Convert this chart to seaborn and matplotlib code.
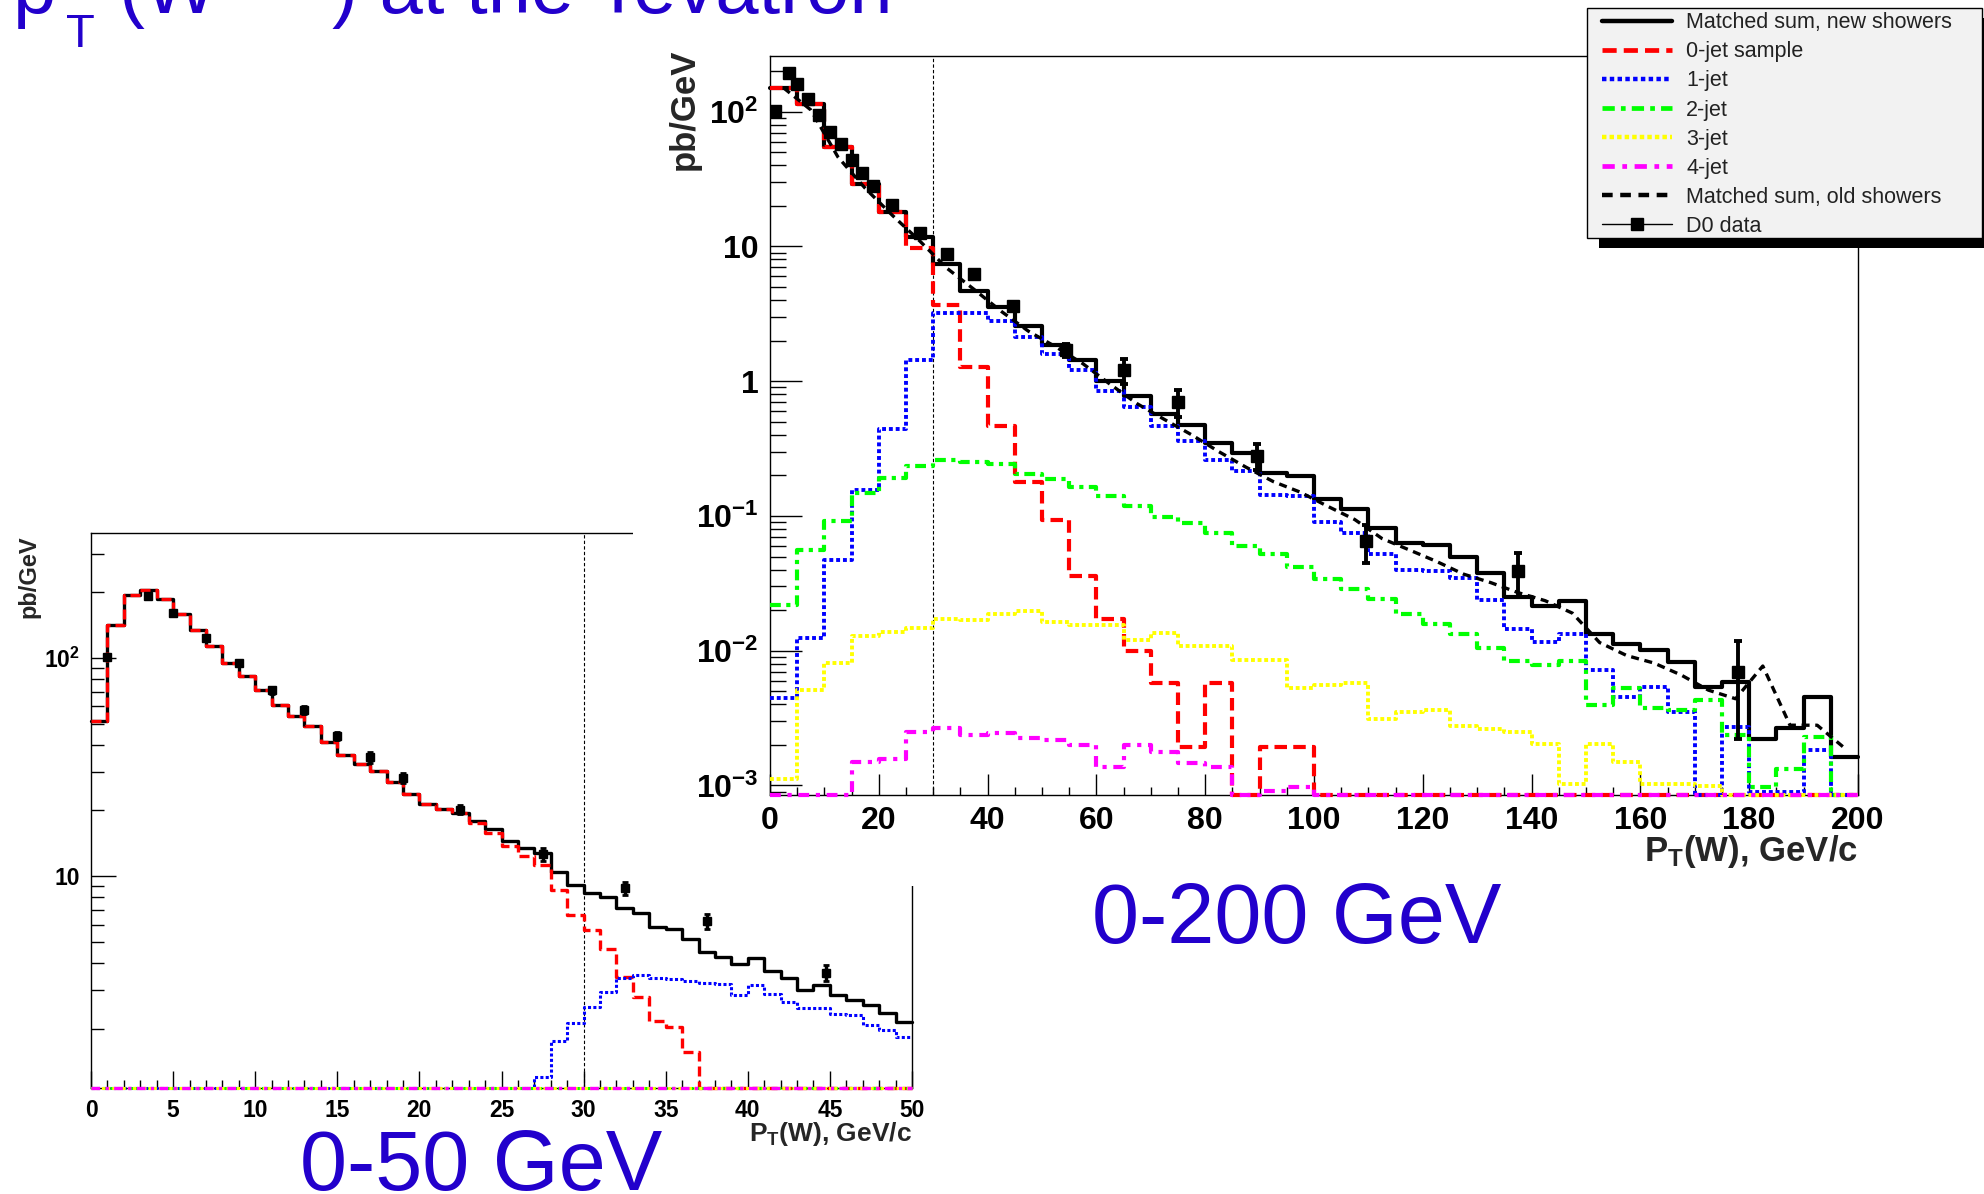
import numpy as np
import pandas as pd
import matplotlib
matplotlib.use("Agg")
import matplotlib.pyplot as plt
import seaborn as sns
from matplotlib.lines import Line2D
from matplotlib.patches import Rectangle
from matplotlib.ticker import MultipleLocator, LogLocator, FuncFormatter, NullFormatter

# ------------------------------------------------------------------
# DATA
# ------------------------------------------------------------------
# 0-200 GeV panel, 5 GeV bins
edges_200 = list(range(0, 205, 5))
sum_new_200 = [150, 114, 55, 29, 18.1, 11.8, 7.35, 4.63, 3.53, 2.58,
               1.87, 1.43, 1.0, 0.77, 0.57, 0.47, 0.349, 0.294, 0.208, 0.197,
               0.133, 0.112, 0.0807, 0.063, 0.0605, 0.05, 0.0376, 0.0251, 0.0215, 0.0235,
               0.0132, 0.0112, 0.0102, 0.0083, 0.0054, 0.0059, 0.0022, 0.00267, 0.00456, 0.00162]
zero_jet_200 = [150, 114, 55, 29, 18.1, 9.8, 3.68, 1.27, 0.465, 0.18,
                0.093, 0.0357, 0.0172, 0.0099, 0.00574, 0.00193, 0.00574, 0, 0.00193, 0.00193,
                0, 0, 0, 0, 0, 0, 0, 0, 0, 0,
                0, 0, 0, 0, 0, 0, 0, 0, 0, 0]
one_jet_200 = [0.00449, 0.0125, 0.0473, 0.156, 0.44, 1.43, 3.19, 3.19, 2.79, 2.13,
               1.6, 1.2, 0.85, 0.64, 0.466, 0.36, 0.262, 0.214, 0.143, 0.141,
               0.0906, 0.075, 0.0525, 0.0398, 0.0389, 0.0347, 0.0237, 0.0144, 0.0116, 0.0132,
               0.00723, 0.00456, 0.00542, 0.00348, 0, 0.00272, 0.0009, 0.0009, 0.00182, 0]
two_jet_200 = [0.0218, 0.0556, 0.092, 0.149, 0.191, 0.236, 0.259, 0.25, 0.243, 0.206,
               0.189, 0.165, 0.141, 0.119, 0.0986, 0.088, 0.075, 0.0596, 0.0519, 0.0417,
               0.0341, 0.0287, 0.0241, 0.0188, 0.0158, 0.0132, 0.0105, 0.00834, 0.0078, 0.00834,
               0.00395, 0.00527, 0.00373, 0.00362, 0.0043, 0.00236, 0.00097, 0.00133, 0.00229, 0]
three_jet_200 = [0.00112, 0.00512, 0.0081, 0.0128, 0.0138, 0.0147, 0.0171, 0.0168, 0.0188, 0.0197,
                 0.0162, 0.0155, 0.0155, 0.0121, 0.0136, 0.0108, 0.0108, 0.0086, 0.0086, 0.00527,
                 0.00557, 0.00574, 0.00314, 0.00348, 0.00363, 0.00277, 0.00264, 0.0025, 0.00204, 0.00102,
                 0.00204, 0.00149, 0.00102, 0.00102, 0.00099, 0, 0, 0, 0, 0]
four_jet_200 = [0, 0, 0, 0.0015, 0.00158, 0.0025, 0.00268, 0.00236, 0.00247, 0.00225,
                0.00219, 0.00201, 0.00136, 0.002, 0.00177, 0.00147, 0.00136, 0, 0.00091, 0.00097,
                0, 0, 0, 0, 0, 0, 0, 0, 0, 0,
                0, 0, 0, 0, 0, 0, 0, 0, 0, 0]
centers_200 = [2.5, 7.5, 12.5, 17.5, 22.5, 27.5, 32.5, 37.5, 42.5, 47.5,
               52.5, 57.5, 62.5, 67.5, 72.5, 77.5, 82.5, 87.5, 92.5, 97.5,
               102.5, 107.5, 112.5, 117.5, 122.5, 127.5, 132.5, 137.5, 142.5, 147.5,
               152.5, 157.5, 162.5, 167.5, 172.5, 177.5, 182.5, 187.5, 192.5, 197.5]
sum_old_200 = [150, 103, 46, 27, 17, 11, 6.9, 4.8, 3.3, 2.35,
               1.8, 1.35, 0.95, 0.68, 0.52, 0.40, 0.30, 0.23, 0.18, 0.15,
               0.118, 0.094, 0.068, 0.056, 0.046, 0.037, 0.032, 0.027, 0.0235, 0.019,
               0.0115, 0.0092, 0.0081, 0.0066, 0.0051, 0.0044, 0.0077, 0.0028, 0.0028, 0.0019]

# 0-50 GeV panel, 1 GeV bins
edges_50 = list(range(0, 51))
sum_new_50 = [51.5, 142, 195, 204, 187, 159, 135, 114, 94.8, 82.4,
              71.6, 61.1, 54, 48.7, 41, 36, 32.7, 30.4, 27, 23.8,
              21.4, 20.4, 19.5, 17.9, 16.5, 14.5, 13.5, 12.8, 10.4, 9.12,
              8.35, 8.07, 7.13, 6.76, 5.87, 5.73, 5.16, 4.48, 4.28, 3.95,
              4.21, 3.66, 3.4, 3.01, 3.17, 2.86, 2.71, 2.57, 2.36, 2.15]
zero_jet_50 = [51.5, 142, 195, 204, 187, 159, 135, 114, 94.8, 82.4,
               71.6, 61.1, 54, 48.7, 41, 36, 32.7, 30.4, 27, 23.8,
               21.4, 20.4, 19.5, 17.5, 15.7, 13.7, 12.4, 11.3, 8.6, 6.65,
               5.68, 4.65, 3.47, 2.8, 2.17, 2.04, 1.57, 0, 0, 0,
               0, 0, 0, 0, 0, 0, 0, 0, 0, 0]
one_jet_50 = [0, 0, 0, 0, 0, 0, 0, 0, 0, 0,
              0, 0, 0, 0, 0, 0, 0, 0, 0, 0,
              0, 0, 0, 0, 0, 0, 0, 1.2, 1.75, 2.12,
              2.52, 2.96, 3.4, 3.52, 3.43, 3.38, 3.31, 3.23, 3.2, 2.86,
              3.17, 2.9, 2.64, 2.5, 2.49, 2.33, 2.3, 2.09, 1.97, 1.84]
two_jet_50 = [0.0] * 50
three_jet_50 = [0.0] * 50
four_jet_50 = [0.0] * 50

# D0 data
d0_pt = [1.0, 3.5, 5.0, 7.0, 9.0, 11.0, 13.0, 15.0, 17.0, 19.0, 22.5, 27.5,
         32.5, 37.5, 44.75, 54.5, 65.0, 75.0, 89.5, 109.5, 137.5, 178.0]
d0_val = [101, 192, 160, 124, 95, 71, 58, 44, 35, 28.2, 20.2, 12.6,
          8.8, 6.2, 3.6, 1.7, 1.2, 0.70, 0.28, 0.065, 0.039, 0.007]
d0_err = [2, 4, 4, 3, 3, 2.5, 2.5, 2, 2, 1.6, 1.0, 0.8,
          0.6, 0.5, 0.3, 0.2, 0.25, 0.16, 0.06, 0.02, 0.014, 0.0048]

legend_labels = ["Matched sum, new showers", "0-jet sample", "1-jet", "2-jet",
                 "3-jet", "4-jet", "Matched sum, old showers", "D0 data"]

title_parts = ["p", "T", "(W", "\u00b1", ") at the Tevatron"]
tag_200 = "0-200 GeV"
tag_50 = "0-50 GeV"
xlabel_text = r"P$_{\mathbf{T}}$(W), GeV/c"
ylabel_text = "pb/GeV"
cut_pt = 30

# ------------------------------------------------------------------
# STYLE
# ------------------------------------------------------------------
sns.set_theme(style="ticks")
plt.rcParams["font.family"] = ["Liberation Sans", "DejaVu Sans"]
plt.rcParams["font.weight"] = "bold"
plt.rcParams["axes.labelweight"] = "bold"
plt.rcParams["mathtext.fontset"] = "custom"
plt.rcParams["mathtext.rm"] = "Liberation Sans"
plt.rcParams["mathtext.it"] = "Liberation Sans:italic"
plt.rcParams["mathtext.bf"] = "Liberation Sans:bold"
plt.rcParams["axes.linewidth"] = 1.0
plt.rcParams["axes.edgecolor"] = "black"

SLIDE_BLUE = "#2200CC"
W, H = 1984.0, 1194.0

STY = {
    "new":   dict(color="black",   ls="-"),
    "j0":    dict(color="#ff0000", ls=(0, (3.0, 1.5))),
    "j1":    dict(color="#0000ff", ls=(0, (1.0, 0.75))),
    "j2":    dict(color="#00ff00", ls=(0, (2.6, 1.3, 1.0, 1.3))),
    "j3":    dict(color="#ffff00", ls=(0, (1.0, 0.7))),
    "j4":    dict(color="#ff00ff", ls=(0, (2.6, 1.6, 1.0, 1.6))),
    "old":   dict(color="black",   ls=(0, (2.4, 1.7))),
}

fig = plt.figure(figsize=(W / 100, H / 100), dpi=100)
fig.patch.set_facecolor("white")


def hist_step(ax, edges, vals, floor, key, lw, z):
    v = np.clip(np.asarray(vals, float), floor, None)
    y = np.append(v, v[-1])
    x = np.asarray(edges, float)
    sns.lineplot(x=x, y=y, ax=ax, drawstyle="steps-post", estimator=None,
                 sort=False, color=STY[key]["color"], linestyle=STY[key]["ls"],
                 linewidth=lw, zorder=z, clip_on=False)


def log_fmt(v, pos):
    e = int(round(np.log10(v)))
    if e == 0:
        return "1"
    if e == 1:
        return "10"
    return r"$\mathbf{10^{%d}}$" % e


def style_axes(ax, xmaj, xmin, lens, lab_size, pad):
    ax.set_yscale("log")
    ax.xaxis.set_major_locator(MultipleLocator(xmaj))
    ax.xaxis.set_minor_locator(MultipleLocator(xmin))
    ax.yaxis.set_major_locator(LogLocator(base=10))
    ax.yaxis.set_minor_locator(LogLocator(base=10, subs=np.arange(2, 10)))
    ax.yaxis.set_major_formatter(FuncFormatter(log_fmt))
    ax.yaxis.set_minor_formatter(NullFormatter())
    ax.tick_params(axis="both", which="both", direction="in", top=False, right=False,
                   color="black", width=1.0, labelsize=lab_size, labelcolor="black")
    ax.tick_params(axis="x", which="major", length=lens[0], pad=pad)
    ax.tick_params(axis="x", which="minor", length=lens[1])
    ax.tick_params(axis="y", which="major", length=lens[2], pad=pad)
    ax.tick_params(axis="y", which="minor", length=lens[3])
    for s in ax.spines.values():
        s.set_visible(True)
        s.set_color("black")
        s.set_linewidth(1.0)
    ax.set_facecolor("white")
    ax.grid(False)


# ------------------------------------------------------------------
# LEFT PANEL (0-50 GeV)
# ------------------------------------------------------------------
axL = fig.add_axes([91 / W, 1 - 1088 / H, (912 - 91) / W, (1088 - 532.7) / H], zorder=0)
axL.set_yscale("log")
yminL, ymaxL = 1.07, 375
axL.set_xlim(0, 50)
axL.set_ylim(yminL, ymaxL)

hist_step(axL, edges_50, sum_new_50, yminL, "new", 2.4, 3)
hist_step(axL, edges_50, zero_jet_50, yminL, "j0", 2.4, 4)
hist_step(axL, edges_50, one_jet_50, yminL, "j1", 2.2, 4)
hist_step(axL, edges_50, two_jet_50, yminL, "j2", 2.2, 4)
hist_step(axL, edges_50, three_jet_50, yminL, "j3", 2.2, 4)
hist_step(axL, edges_50, four_jet_50, yminL, "j4", 2.4, 4)
axL.axvline(cut_pt, color="black", lw=0.8, ls=(0, (3, 2)), zorder=2)
axL.errorbar(d0_pt, d0_val, yerr=d0_err, fmt="s", color="black", ms=5.5,
             elinewidth=2.5, capsize=2.5, capthick=2, zorder=6)
style_axes(axL, 5, 1, (12, 5.5, 18, 9), 16.5, 8)
axL.set_xlim(0, 50)
axL.set_ylim(yminL, ymaxL)
axL.set_xlabel(xlabel_text, fontsize=19, loc="right")
axL.xaxis.set_label_coords(1.0, -0.058)
axL.set_ylabel(ylabel_text, fontsize=17, loc="top")
axL.yaxis.set_label_coords(-0.062, 0.995)

# white canvas of the second picture, pasted over the first one
fig.add_artist(Rectangle((633 / W, 1 - 886 / H), 1 - 633 / W, 886 / H,
                         transform=fig.transFigure, facecolor="white",
                         edgecolor="none", zorder=1))

# ------------------------------------------------------------------
# RIGHT PANEL (0-200 GeV)
# ------------------------------------------------------------------
axR = fig.add_axes([770 / W, 1 - 795 / H, (1858 - 770) / W, (795 - 55.7) / H], zorder=2)
axR.set_yscale("log")
yminR, ymaxR = 8.5e-4, 260
axR.set_xlim(0, 200)
axR.set_ylim(yminR, ymaxR)

hist_step(axR, edges_200, sum_new_200, yminR, "new", 3.0, 3)
hist_step(axR, edges_200, zero_jet_200, yminR, "j0", 3.0, 4)
hist_step(axR, edges_200, one_jet_200, yminR, "j1", 2.8, 4)
hist_step(axR, edges_200, two_jet_200, yminR, "j2", 3.0, 4)
hist_step(axR, edges_200, three_jet_200, yminR, "j3", 2.8, 4)
hist_step(axR, edges_200, four_jet_200, yminR, "j4", 3.0, 4)
sns.lineplot(x=centers_200, y=sum_old_200, ax=axR, estimator=None, sort=False,
             color=STY["old"]["color"], linestyle=STY["old"]["ls"], linewidth=2.4, zorder=5)
axR.axvline(cut_pt, color="black", lw=0.8, ls=(0, (3, 2)), zorder=2)
axR.errorbar(d0_pt, d0_val, yerr=d0_err, fmt="s", color="black", ms=8,
             elinewidth=2.8, capsize=3, capthick=2.8, zorder=6)
style_axes(axR, 20, 5, (15, 6, 23, 11.5), 23, 8)
axR.set_xlim(0, 200)
axR.set_ylim(yminR, ymaxR)
axR.set_xlabel(xlabel_text, fontsize=25, loc="right")
axR.xaxis.set_label_coords(1.0, -0.052)
axR.set_ylabel(ylabel_text, fontsize=25, loc="top")
axR.yaxis.set_label_coords(-0.064, 1.009)

# ------------------------------------------------------------------
# LEGEND (framed box with hard shadow)
# ------------------------------------------------------------------
fig.add_artist(Rectangle((1599.3 / W, 1 - 248.3 / H), 394.4 / W, 230 / H,
                         transform=fig.transFigure, facecolor="black",
                         edgecolor="none", zorder=4))
fig.add_artist(Rectangle((1587.3 / W, 1 - 238.3 / H), 394.4 / W, 230 / H,
                         transform=fig.transFigure, facecolor="#f2f2f2",
                         edgecolor="black", linewidth=1.0, zorder=4.5))
keys = ["new", "j0", "j1", "j2", "j3", "j4", "old"]
lws = [3.2, 3.4, 3.2, 3.4, 3.2, 3.4, 3.2]
handles = [Line2D([0], [0], color=STY[k]["color"], linestyle=STY[k]["ls"], linewidth=w)
           for k, w in zip(keys, lws)]
handles.append(Line2D([0], [0], color="black", linewidth=1.0, marker="s", ms=9))
leg = fig.legend(handles, legend_labels, loc="upper left",
                 bbox_to_anchor=(1601.7 / W, 1 - 12.3 / H), frameon=False,
                 borderpad=0, borderaxespad=0, handlelength=3.26, handletextpad=0.66,
                 labelspacing=0.375, prop={"family": "Liberation Sans", "size": 15.5,
                                           "weight": "normal"})
leg.set_zorder(5)
for t in leg.get_texts():
    t.set_color("#222222")

# ------------------------------------------------------------------
# SLIDE TEXT
# ------------------------------------------------------------------
title_kw = dict(color=SLIDE_BLUE, fontweight="normal", ha="left", va="baseline", zorder=6)
fig.text(12.6 / W, 1 - 12.7 / H, title_parts[0], fontsize=56, **title_kw)
fig.text(66.0 / W, 1 - 47.0 / H, title_parts[1], fontsize=34, **title_kw)
fig.text(117.7 / W, 1 - 12.7 / H, title_parts[2], fontsize=56, **title_kw)
fig.text(228.0 / W, 1 + 2.0 / H, title_parts[3], fontsize=34, **title_kw)
fig.text(331.5 / W, 1 - 12.7 / H, title_parts[4], fontsize=56, **title_kw)

fig.text(1297 / W, 1 - 943 / H, tag_200, color=SLIDE_BLUE, fontsize=61,
         fontweight="normal", ha="center", va="baseline", zorder=6)
fig.text(481 / W, 1 - 1190 / H, tag_50, color=SLIDE_BLUE, fontsize=61,
         fontweight="normal", ha="center", va="baseline", zorder=6)

fig.savefig("out.png", dpi=100, facecolor="white")
